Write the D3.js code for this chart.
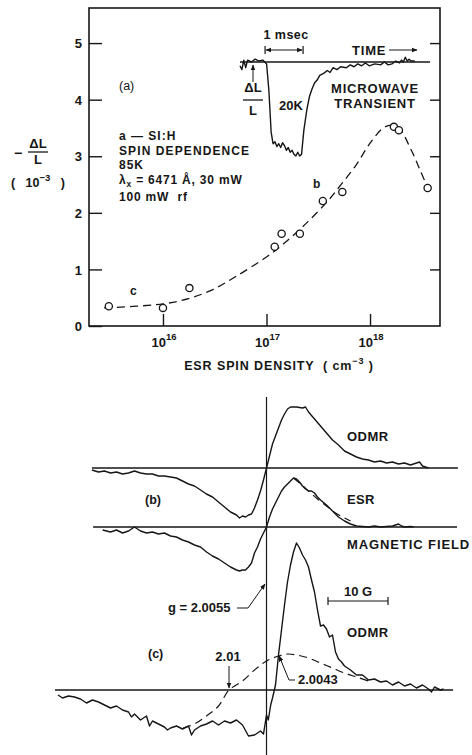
<!DOCTYPE html>
<html>
<head>
<meta charset="utf-8">
<script src="https://cdn.jsdelivr.net/npm/d3@7"></script>
<style>
  body { margin: 0; background: #fff; }
  text { font-family: "Liberation Sans", Arial, sans-serif; font-weight: bold; fill: #161616; }
</style>
</head>
<body>
<svg id="fig" width="472" height="755"></svg>
<script>
//==================== PANEL (a): SPIN DEPENDENCE ====================
let spinDensity = [3.0e15, 1.0e16, 1.8e16, 1.2e17, 1.4e17, 2.1e17, 3.5e17, 5.4e17, 1.7e18, 1.9e18, 3.6e18]
let dLL = [0.35, 0.32, 0.67, 1.40, 1.63, 1.63, 2.21, 2.37, 3.52, 3.46, 2.44]

// dashed guide curve
let fitDensity = [2.7e15, 1.0e16, 1.8e16, 3.0e16, 5.0e16, 1.0e17, 1.5e17, 2.5e17, 4.0e17, 5.2e17, 7.3e17, 1.0e18, 1.34e18, 1.6e18, 1.9e18, 2.5e18, 3.1e18, 3.7e18]
let fitDLL = [0.32, 0.39, 0.49, 0.64, 0.87, 1.22, 1.47, 1.84, 2.23, 2.49, 2.84, 3.23, 3.50, 3.55, 3.50, 3.11, 2.72, 2.40]

let yTicks = [0, 1, 2, 3, 4, 5]
let xTicks = [1e16, 1e17, 1e18]
let xTickExp = ["16", "17", "18"]

// inset: microwave transient (time in msec, signal relative to baseline)
let inTime = [0, 0.05, 0.1, 0.15, 0.2, 0.3, 0.4, 0.5, 0.6, 0.7, 0.76, 0.82, 0.87, 0.92, 0.97, 1.02, 1.07, 1.12, 1.17, 1.22, 1.27, 1.32, 1.37, 1.42, 1.47, 1.52, 1.57, 1.62, 1.68, 1.76, 1.83, 1.89, 1.96, 2.03, 2.1, 2.2, 2.3, 2.37, 2.45, 2.55, 2.65, 2.8, 2.9, 3.0, 3.1, 3.2, 3.3, 3.4, 3.55, 3.7, 3.8, 3.9, 4.0, 4.1, 4.2, 4.25, 4.3, 4.35, 4.4, 4.45, 4.5, 4.6]
let inSignal = [-0.04, -0.08, 0.02, -0.06, 0.02, 0.0, 0.03, 0.01, 0.02, -0.02, -0.3, -0.74, -0.86, -0.84, -0.89, -0.86, -0.90, -0.85, -0.88, -0.93, -0.90, -0.95, -0.93, -0.97, -0.99, -0.95, -0.99, -0.97, -0.72, -0.5, -0.36, -0.29, -0.22, -0.19, -0.14, -0.12, -0.09, -0.11, -0.06, -0.08, -0.05, -0.06, -0.03, -0.05, -0.02, -0.04, -0.01, -0.04, -0.02, -0.03, 0.0, -0.03, -0.02, 0.01, -0.01, 0.02, 0.0, 0.05, 0.01, 0.03, 0.01, 0.01]

//==================== PANELS (b), (c): FIELD SWEEPS ====================
// field offset from g = 2.0055 in gauss, amplitude in arbitrary units
let odmrBField = [-29.1, -28, -27, -26, -25, -24, -23, -22, -21, -20, -19, -18, -17, -16, -15, -14, -13, -12, -11, -10, -9, -8, -7, -6, -5, -4.5, -4, -3.5, -3, -2.5, -2, -1.5, -1, -0.5, 0, 0.5, 1, 1.5, 2, 2.5, 3, 3.5, 4, 5, 6, 6.5, 7, 8, 9, 10, 11, 12, 13, 14, 15, 16, 17, 18, 19, 20, 21, 22, 23, 24, 25, 25.5, 26, 27]
let odmrBSignal = [-0.2, -0.4, -0.3, -0.5, -0.4, -0.6, -0.5, -0.3, -0.5, -0.6, -0.6, -0.8, -0.8, -0.9, -1.0, -1.3, -1.6, -1.8, -2.2, -2.6, -2.9, -3.4, -3.9, -4.4, -4.7, -5.0, -4.8, -4.9, -4.7, -4.6, -4.0, -3.2, -2.3, -1.2, 0, 1.2, 2.4, 3.2, 4.0, 4.8, 5.4, 5.9, 6.1, 6.1, 6.0, 6.1, 5.6, 4.9, 4.2, 3.5, 2.8, 2.3, 1.7, 1.4, 1.1, 0.9, 0.8, 0.6, 0.7, 0.5, 0.6, 0.4, 0.5, 0.3, 0.5, 0.6, 0.2, 0.0]

let esrField = [-27.3, -26, -25, -24, -23, -22, -21, -20, -19, -18, -17, -16, -15, -14, -13, -12, -11, -10, -9, -8, -7, -6, -5, -4.5, -4, -3.5, -3, -2.5, -2, -1.5, -1, -0.5, 0, 0.5, 1, 1.5, 2, 2.5, 3, 3.5, 4, 4.5, 5, 5.5, 6, 6.5, 7, 7.5, 8, 8.5, 9, 10, 11, 12, 13, 14, 15, 16, 17, 18, 19, 20, 21, 22, 22.5, 23, 24, 24.5]
let esrSignal = [-0.3, -0.5, -0.3, -0.6, -0.4, 0.0, -0.4, -0.6, -0.5, -0.7, -0.6, -0.9, -1.0, -1.3, -1.5, -1.8, -2.0, -2.5, -2.9, -3.2, -3.6, -4.0, -4.3, -4.4, -4.3, -4.3, -4.0, -3.6, -2.6, -2.0, -1.2, -0.6, 0, 1.0, 1.8, 2.4, 3.0, 3.6, 4.0, 4.3, 4.6, 4.9, 4.8, 4.5, 4.1, 3.8, 3.6, 3.6, 3.4, 3.0, 2.7, 2.2, 1.6, 1.0, 0.6, 0.3, 0.1, 0.05, 0.0, 0.1, 0.0, 0.05, 0.1, 0.3, 0.1, 0.0, 0.05, 0.0]
let esrFitField = [4.5, 5.5, 7, 8.5, 10, 11.5, 13, 14]
let esrFitSignal = [4.9, 4.4, 3.6, 2.8, 2.1, 1.4, 0.9, 0.6]

let odmrCField = [-34.75, -34, -33, -32, -31, -30, -29, -28, -27, -26, -25, -24, -23, -22.5, -22, -21, -20, -19.5, -19, -18, -17, -16.5, -16, -15, -14, -13, -12.5, -12, -11, -10, -9, -8, -7, -6, -5, -4, -3, -2, -1, -0.5, 0, 0.3, 0.7, 1, 1.5, 2, 2.5, 3, 3.5, 4, 4.5, 5, 5.5, 6, 6.5, 7, 7.5, 8, 8.5, 9, 9.5, 10, 10.5, 11, 11.5, 12, 12.5, 13, 14, 15, 16, 17, 18, 19, 20, 21, 22, 23, 24, 25, 26, 27, 27.5, 28, 29, 29.5]
let odmrCSignal = [-0.5, -0.8, -0.6, -0.7, -0.9, -1.3, -1.0, -1.2, -1.5, -1.8, -1.6, -2.0, -2.2, -2.7, -2.4, -3.0, -2.6, -3.6, -3.1, -3.4, -3.7, -4.0, -3.8, -3.6, -3.9, -3.6, -4.5, -4.0, -3.6, -3.4, -3.1, -3.5, -3.1, -3.3, -3.0, -3.5, -4.6, -4.5, -4.1, -4.4, -2.5, -3.0, -1.5, -0.8, 0.5, 3.5, 6.0, 8.5, 10.8, 12.5, 13.8, 14.7, 14.2, 13.5, 13.0, 12.3, 11.0, 9.8, 8.0, 6.4, 6.5, 6.1, 5.3, 5.5, 3.8, 3.1, 2.8, 2.4, 2.0, 1.5, 1.5, 1.0, 1.1, 0.8, 0.9, 0.5, 0.8, 0.4, 0.6, 0.2, 0.5, 0.1, -0.2, 0.3, 0.0, 0.1]
let odmrCFitField = [-13.9, -12, -10, -8, -6.25, -4, -2, 0, 2, 3.5, 5, 7, 9, 11, 13, 15, 17]
let odmrCFitSignal = [-3.8, -3.4, -2.6, -1.6, 0, 0.9, 2.0, 2.9, 3.4, 3.6, 3.5, 3.2, 2.7, 2.2, 1.7, 1.3, 0.9]

//========================= SET UP SVG =========================
let svg = d3.select("#fig"),
    ink = "#161616",
    font = "'Liberation Sans', Arial, sans-serif"

svg.append("rect").attr("width", 472).attr("height", 755).attr("fill", "#fff")

svg.append("defs").append("marker")
    .attr("id", "ah")
    .attr("viewBox", "0 0 10 10")
    .attr("refX", 9).attr("refY", 5)
    .attr("markerWidth", 6).attr("markerHeight", 6)
    .attr("orient", "auto-start-reverse")
  .append("path")
    .attr("d", "M0,1 L10,5 L0,9 z")
    .attr("fill", ink)

function label(x, y, str, size, opts) {
  opts = opts || {}
  let t = svg.append("text")
    .attr("x", x).attr("y", y)
    .attr("font-size", size)
    .attr("text-anchor", opts.anchor || "start")
    .style("letter-spacing", (opts.ls || 0) + "px")
    .style("white-space", "pre")
  if (opts.weight) t.style("font-weight", opts.weight)
  if (str !== null) t.text(str)
  return t
}

function seg(x1, y1, x2, y2, w, arrowEnd, arrowStart) {
  let l = svg.append("line")
    .attr("x1", x1).attr("y1", y1).attr("x2", x2).attr("y2", y2)
    .attr("stroke", ink).attr("stroke-width", w || 1.2)
  if (arrowEnd) l.attr("marker-end", "url(#ah)")
  if (arrowStart) l.attr("marker-start", "url(#ah)")
  return l
}

//========================== PANEL (a) AXES =======================
let x = d3.scaleLog().domain([1.93e15, 4.74e18]).range([89, 440]),
    y = d3.scaleLinear().domain([0, 5.62]).range([326, 8])

svg.append("rect")
  .attr("x", 89).attr("y", 8)
  .attr("width", 351).attr("height", 318)
  .attr("fill", "none").attr("stroke", ink).attr("stroke-width", 1.6)

svg.append("g")
  .attr("transform", "translate(89,0)")
  .call(d3.axisLeft(y).tickValues(yTicks).tickSize(-13).tickPadding(7).tickFormat(d3.format("d")))
  .call(g => g.select(".domain").remove())
  .call(g => g.selectAll("line").attr("stroke", ink).attr("stroke-width", 1.4))
  .call(g => g.selectAll("text").attr("font-size", 13).attr("font-family", font).attr("fill", ink).attr("dy", "0.36em"))

svg.append("g")
  .attr("transform", "translate(440,0)")
  .call(d3.axisRight(y).tickValues(yTicks.slice(1)).tickSize(-10).tickFormat(""))
  .call(g => g.select(".domain").remove())
  .call(g => g.selectAll("line").attr("stroke", ink).attr("stroke-width", 1.4))

svg.append("g")
  .attr("transform", "translate(0,326)")
  .call(d3.axisBottom(x).tickValues(xTicks).tickSize(-12).tickFormat(""))
  .call(g => g.select(".domain").remove())
  .call(g => g.selectAll("line").attr("stroke", ink).attr("stroke-width", 1.4))

xTicks.forEach(function(d, i) {
  let t = label(x(d) + 1, 347, null, 13, {anchor: "middle"})
  t.append("tspan").text("10")
  t.append("tspan").attr("dy", -7).attr("font-size", 9.5).text(xTickExp[i])
})

let xt = label(279, 370, null, 12.5, {anchor: "middle", ls: 0.9})
xt.append("tspan").text("ESR SPIN DENSITY  ( cm")
xt.append("tspan").attr("dy", -6).attr("font-size", 9).text("−3")
xt.append("tspan").attr("dy", 6).text(" )")

// y title
label(14, 158, "−", 14)
label(38, 148, "ΔL", 13, {anchor: "middle"})
seg(28, 152, 48, 152, 1.3)
label(38, 164, "L", 13, {anchor: "middle"})
let yt = label(11, 187, null, 12.5)
yt.append("tspan").text("(   10")
yt.append("tspan").attr("dy", -6).attr("font-size", 9.5).text("−3")
yt.append("tspan").attr("dy", 6).text("   )")

// annotation block
label(119, 90, "(a)", 12.5, {weight: "normal"})
label(119, 140, "a — SI:H", 12, {ls: 1})
label(119, 155, "SPIN DEPENDENCE", 12, {ls: 1.1})
label(119, 169, "85K", 12, {ls: 1})
let lam = label(119, 184, null, 12, {ls: 0.8})
lam.append("tspan").text("λ")
lam.append("tspan").attr("dy", 3).attr("font-size", 8.5).text("x")
lam.append("tspan").attr("dy", -3).text(" = 6471 Å, 30 mW")
label(119, 201, "100 mW  rf", 12, {ls: 0.8})
label(313, 188, "b", 12)
label(130, 295, "c", 12)

// dashed guide & points
let fit = d3.line()
  .curve(d3.curveCatmullRom)
  .x(function(d) { return x(d[0]) })
  .y(function(d) { return y(d[1]) })

svg.append("path")
  .attr("d", fit(d3.zip(fitDensity, fitDLL)))
  .attr("fill", "none").attr("stroke", ink)
  .attr("stroke-width", 1.3).attr("stroke-dasharray", "8,5")

svg.selectAll(".pt")
  .data(d3.zip(spinDensity, dLL))
  .enter().append("circle")
  .attr("class", "pt")
  .attr("cx", function(d) { return x(d[0]) })
  .attr("cy", function(d) { return y(d[1]) })
  .attr("r", 3.6)
  .attr("fill", "#fff").attr("stroke", ink).attr("stroke-width", 1.3)

//========================== INSET TRANSIENT ======================
let xT = d3.scaleLinear().domain([0, 5]).range([240, 430]),
    yT = d3.scaleLinear().domain([-1, 0]).range([157, 62])

seg(xT(0), yT(0), xT(5), yT(0), 1.3)
svg.append("path")
  .attr("d", d3.line().x(function(d) { return xT(d[0]) }).y(function(d) { return yT(d[1]) })(d3.zip(inTime, inSignal)))
  .attr("fill", "none").attr("stroke", ink).attr("stroke-width", 1.4).attr("stroke-linejoin", "round")

// 1 msec bar
seg(xT(0.66) + 1, 50, xT(1.66) - 1, 50, 1, true, true)
seg(xT(0.66), 46, xT(0.66), 54, 1.2)
seg(xT(1.66), 46, xT(1.66), 54, 1.2)
label(xT(1.16) + 2, 39, "1 msec", 12.5, {anchor: "middle", ls: 0.5})
label(352, 55, "TIME", 13, {ls: 0.8})
seg(389, 50, 417, 50, 1, true)

label(253, 92, "ΔL", 13, {anchor: "middle"})
seg(243, 100, 263, 100, 1.3)
label(253, 115, "L", 13, {anchor: "middle"})
seg(253, 82, 253, 65, 1, true)
label(291, 110, "20K", 13, {anchor: "middle"})
label(375, 93, "MICROWAVE", 13, {anchor: "middle", ls: 0.8})
label(375, 108, "TRANSIENT", 13, {anchor: "middle", ls: 0.8})

//========================== LOWER PANELS ==========================
let xB = d3.scaleLinear().domain([0, 10]).range([266.5, 326.5]),   // 6 px per gauss
    amp = d3.scaleLinear().domain([0, 1]).range([0, -10])

let trace = d3.line()
  .x(function(d) { return xB(d[0]) })
  .y(function(d) { return amp(d[1]) })

let sweeps = [
  {base: 468, span: [-29.1, 31.9], field: odmrBField, sig: odmrBSignal},
  {base: 527, span: [-28.9, 31.75], field: esrField, sig: esrSignal, fitF: esrFitField, fitS: esrFitSignal},
  {base: 690, span: [-35.25, 31.1], field: odmrCField, sig: odmrCSignal, fitF: odmrCFitField, fitS: odmrCFitSignal}
]

let sw = svg.selectAll(".sweep")
  .data(sweeps)
  .enter().append("g")
  .attr("class", "sweep")
  .attr("transform", function(d) { return "translate(0," + d.base + ")" })

sw.append("line")
  .attr("x1", function(d) { return xB(d.span[0]) })
  .attr("x2", function(d) { return xB(d.span[1]) })
  .attr("stroke", ink).attr("stroke-width", 1.3)

sw.append("path")
  .attr("d", function(d) { return trace(d3.zip(d.field, d.sig)) })
  .attr("fill", "none").attr("stroke", ink).attr("stroke-width", 1.4).attr("stroke-linejoin", "round")

sw.filter(function(d) { return d.fitF })
  .append("path")
  .attr("d", function(d) { return trace.curve(d3.curveCatmullRom)(d3.zip(d.fitF, d.fitS)) })
  .attr("fill", "none").attr("stroke", ink).attr("stroke-width", 1.2).attr("stroke-dasharray", "8,5")
trace.curve(d3.curveLinear)

// resonance marker g = 2.0055
seg(xB(0), 397, xB(0), 755, 1.2)

label(347, 441, "ODMR", 13, {ls: 0.5})
label(145, 504, "(b)", 12.5)
label(347, 504, "ESR", 13, {ls: 0.3})
label(347, 549, "MAGNETIC FIELD", 13, {ls: 0.9})

// 10 G scale bar
seg(xB(10.25), 601, xB(20.25), 601, 1.2)
seg(xB(10.25), 597, xB(10.25), 605, 1.2)
seg(xB(20.25), 597, xB(20.25), 605, 1.2)
label(xB(15.25), 596, "10 G", 13, {anchor: "middle"})

label(168, 612, "g = 2.0055", 13)
svg.append("path")
  .attr("d", "M237,608 L248,608 L" + (xB(0) - 1.5) + ",584")
  .attr("fill", "none").attr("stroke", ink).attr("stroke-width", 1).attr("marker-end", "url(#ah)")

label(347, 637, "ODMR", 13, {ls: 0.5})
label(148, 658, "(c)", 12.5)
label(228, 661, "2.01", 13, {anchor: "middle"})
seg(xB(-6.25), 666, xB(-6.25), 688, 1, true)
label(298, 684, "2.0043", 13)
svg.append("path")
  .attr("d", "M295,680 L289,680 L" + (xB(2.1)) + ",656")
  .attr("fill", "none").attr("stroke", ink).attr("stroke-width", 1).attr("marker-end", "url(#ah)")
</script>
</body>
</html>
